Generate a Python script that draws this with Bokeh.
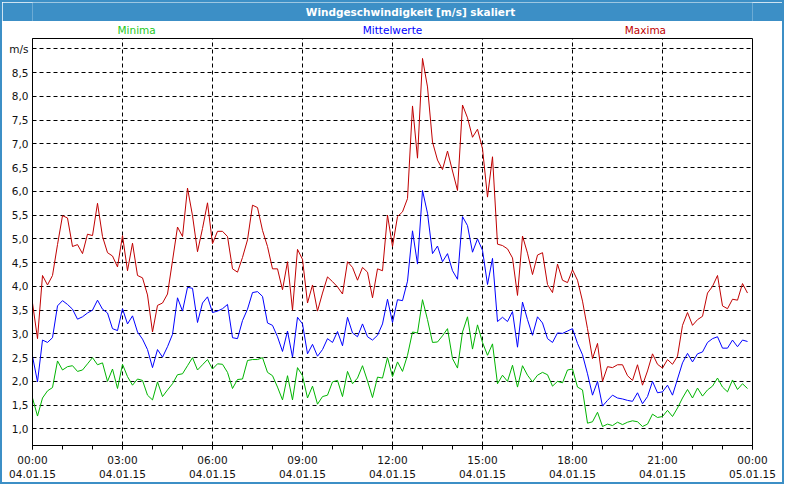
from bokeh.plotting import figure
from bokeh.models import Range1d, FixedTicker, Label, ColumnDataSource
from bokeh.layouts import column
from bokeh.embed import file_html
from bokeh.resources import INLINE

# ---- data (10-minute samples, 04.01.15 00:00 .. 23:50) ----
minutes = [k * 10 for k in range(144)]

maxima = [
    3.65, 2.9, 4.23, 4.03, 4.23, 4.88, 5.49, 5.44, 4.84, 4.88, 4.69, 5.1,
    5.07, 5.75, 5.05, 4.71, 4.64, 4.41, 5.07, 4.33, 4.91, 4.23, 4.18, 3.82,
    3.04, 3.6, 3.65, 3.84, 4.54, 5.25, 5.05, 6.07, 5.49, 4.73, 5.22, 5.76,
    4.9, 5.16, 5.16, 5.05, 4.37, 4.3, 4.61, 4.98, 5.71, 5.66, 5.18, 4.84,
    4.37, 4.37, 3.93, 4.52, 3.5, 4.78, 4.57, 3.65, 4.03, 3.48, 3.86, 4.2,
    4.1, 3.99, 3.84, 4.52, 4.4, 4.13, 4.4, 4.3, 3.76, 4.37, 4.33, 5.5,
    4.84, 5.47, 5.57, 5.85, 7.8, 6.7, 8.8, 8.2, 7.04, 6.66, 6.46, 6.85,
    6.43, 6.02, 7.82, 7.55, 7.14, 7.31, 6.9, 5.88, 6.73, 4.89, 4.86, 4.79,
    4.6, 3.81, 5.06, 4.7, 4.25, 4.66, 4.71, 4.04, 3.87, 4.47, 4.13, 4.08,
    4.35, 4.13, 3.69, 3.11, 2.48, 2.8, 2.0, 2.31, 2.29, 2.35, 2.35, 2.12,
    2.02, 2.35, 1.92, 2.22, 2.58, 2.36, 2.28, 2.46, 2.36, 2.53, 3.18, 3.45,
    3.18, 3.3, 3.37, 3.86, 4.0, 4.23, 3.59, 3.53, 3.73, 3.71, 4.06, 3.86,
]

mittelwerte = [
    2.53, 1.99, 2.87, 2.82, 2.92, 3.59, 3.7, 3.62, 3.52, 3.31, 3.36, 3.44,
    3.5, 3.71, 3.52, 3.44, 3.11, 3.07, 3.53, 3.21, 3.38, 3.04, 2.89, 2.67,
    2.29, 2.67, 2.51, 2.73, 2.99, 3.76, 3.48, 3.98, 3.96, 3.24, 3.65, 3.78,
    3.45, 3.48, 3.53, 3.62, 2.92, 2.9, 3.28, 3.52, 3.87, 3.89, 3.79, 3.23,
    3.18, 2.94, 2.63, 3.06, 2.51, 3.35, 3.21, 2.58, 2.78, 2.53, 2.67, 2.9,
    2.82, 3.05, 2.75, 3.35, 3.02, 2.94, 3.21, 2.94, 2.87, 2.97, 3.21, 3.73,
    3.24, 3.72, 3.7, 4.11, 5.17, 4.47, 6.02, 5.54, 4.69, 4.85, 4.52, 4.69,
    4.33, 4.15, 5.47, 5.28, 4.72, 5.0, 4.76, 4.04, 4.59, 3.26, 3.35, 3.26,
    3.47, 2.72, 3.67, 3.3, 2.97, 3.36, 3.23, 2.9, 2.82, 3.02, 3.01, 3.06,
    3.11, 2.8, 2.56, 2.16, 1.71, 2.0, 1.48, 1.6, 1.71, 1.65, 1.63, 1.6,
    1.58, 1.76, 1.53, 1.68, 2.0, 1.76, 1.78, 1.92, 1.71, 2.05, 2.39, 2.59,
    2.41, 2.58, 2.62, 2.82, 2.9, 2.94, 2.7, 2.7, 2.87, 2.73, 2.87, 2.84,
]

minima = [
    1.65, 1.27, 1.65, 1.8, 1.87, 2.43, 2.24, 2.31, 2.33, 2.21, 2.24, 2.37,
    2.5, 2.35, 2.39, 2.0, 2.26, 1.85, 2.36, 2.1, 1.92, 2.05, 2.02, 1.71,
    1.61, 1.99, 1.68, 1.82, 1.95, 2.14, 2.16, 2.33, 2.5, 2.24, 2.35, 2.46,
    2.26, 2.37, 2.36, 2.19, 1.85, 2.04, 2.05, 2.44, 2.46, 2.46, 2.5, 2.19,
    2.12, 1.88, 1.61, 2.12, 1.61, 2.29, 2.12, 1.65, 1.9, 1.52, 1.68, 1.71,
    1.99, 2.02, 1.68, 2.21, 1.95, 2.07, 2.33, 2.01, 1.66, 2.09, 2.07, 2.5,
    2.1, 2.41, 2.21, 2.55, 3.04, 3.02, 3.72, 3.3, 2.82, 2.83, 2.96, 3.11,
    2.48, 2.28, 3.04, 3.36, 2.68, 3.19, 2.82, 2.55, 2.79, 1.95, 2.13, 2.0,
    2.34, 1.88, 2.33, 2.13, 1.99, 2.13, 2.19, 2.14, 1.9, 2.0, 1.97, 2.24,
    2.26, 1.88, 1.82, 1.12, 1.15, 1.35, 1.05, 1.1, 1.07, 1.14, 1.09, 1.14,
    1.17, 1.15, 1.05, 1.1, 1.31, 1.24, 1.26, 1.39, 1.26, 1.44, 1.65, 1.83,
    1.65, 1.86, 1.69, 1.82, 1.9, 2.07, 1.88, 1.78, 2.03, 1.83, 1.95, 1.85,
]

x_ticks = [0, 3, 6, 9, 12, 15, 18, 21, 24]
x_tick_labels = ["00:00\n04.01.15", "03:00\n04.01.15", "06:00\n04.01.15",
                 "09:00\n04.01.15", "12:00\n04.01.15", "15:00\n04.01.15",
                 "18:00\n04.01.15", "21:00\n04.01.15", "00:00\n05.01.15"]
x_minor = list(range(0, 25))
y_ticks = [1.0, 1.5, 2.0, 2.5, 3.0, 3.5, 4.0, 4.5, 5.0, 5.5, 6.0, 6.5, 7.0,
           7.5, 8.0, 8.5, 9.0]
y_tick_labels = ["1,0", "1,5", "2,0", "2,5", "3,0", "3,5", "4,0", "4,5", "5,0",
                 "5,5", "6,0", "6,5", "7,0", "7,5", "8,0", "8,5", "m/s"]

TITLE = "Windgeschwindigkeit [m/s] skaliert"
series_names = ["Minima", "Mittelwerte", "Maxima"]
series_colors = ["#00b400", "#0000ff", "#c00000"]
label_colors = ["#1ec81e", "#0000ff", "#c00000"]

FONT = "DejaVu Sans"
BAR = "#3c8fc6"
W = 780
BAR_H = 19
LEG_H = 15
LEFT, RIGHT = 30, 30
label_hours = [3.47, 12.0, 20.43]
title_hour = 12.6

hours = [m / 60 for m in minutes]
src = ColumnDataSource(dict(h=hours, mn=minima, mw=mittelwerte, mx=maxima))

# ---- title bar ----
bar = figure(width=W, height=BAR_H, output_backend="svg", toolbar_location=None,
             x_range=Range1d(0, 24), y_range=Range1d(0, 1),
             min_border_left=LEFT, min_border_right=RIGHT,
             min_border_top=0, min_border_bottom=0,
             background_fill_color=BAR, border_fill_color=BAR,
             outline_line_color=None)
bar.axis.visible = False
bar.grid.visible = False
bar.add_layout(Label(x=title_hour, y=0.5, text=TITLE, text_color="white",
                     text_font=FONT, text_font_size="10.5px",
                     text_font_style="bold", text_align="center",
                     text_baseline="middle"))

# ---- series names row ----
leg = figure(width=W, height=LEG_H, output_backend="svg", toolbar_location=None,
             x_range=Range1d(0, 24), y_range=Range1d(0, 1),
             min_border_left=LEFT, min_border_right=RIGHT,
             min_border_top=0, min_border_bottom=0,
             background_fill_color="white", border_fill_color="white",
             outline_line_color=None)
leg.axis.visible = False
leg.grid.visible = False
for name, col, hx in zip(series_names, label_colors, label_hours):
    leg.add_layout(Label(x=hx, y=0.45, text=name, text_color=col,
                         text_font=FONT, text_font_size="10.5px",
                         text_align="center", text_baseline="middle"))

# ---- main chart ----
Y0, Y1 = 0.65, 9.22
p = figure(width=W, height=480 - BAR_H - LEG_H, output_backend="svg",
           toolbar_location=None,
           x_range=Range1d(0, 24), y_range=Range1d(Y0, Y1),
           min_border_left=LEFT, min_border_right=RIGHT, min_border_top=2,
           min_border_bottom=32, background_fill_color="white",
           border_fill_color="white", outline_line_color="black",
           outline_line_width=1)

p.line("h", "mx", source=src, line_color=series_colors[2], line_width=1)
p.line("h", "mw", source=src, line_color=series_colors[1], line_width=1)
p.line("h", "mn", source=src, line_color=series_colors[0], line_width=1)

xa = p.xaxis[0]
xa.ticker = FixedTicker(ticks=x_ticks, minor_ticks=x_minor)
xa.major_label_overrides = dict(zip(x_ticks, x_tick_labels))
xa.major_tick_in = 0
xa.major_tick_out = 4
xa.minor_tick_in = 0
xa.minor_tick_out = 4
xa.axis_line_color = "black"
xa.major_tick_line_color = "black"
xa.minor_tick_line_color = "black"
xa.major_label_text_font = FONT
xa.major_label_text_font_size = "10.5px"
xa.major_label_text_color = "#111111"
xa.major_label_standoff = 4

ya = p.yaxis[0]
ya.ticker = FixedTicker(ticks=y_ticks)
ya.major_label_overrides = dict(zip(y_ticks, y_tick_labels))
ya.major_tick_in = 0
ya.major_tick_out = 0
ya.minor_tick_line_color = None
ya.axis_line_color = "black"
ya.major_label_text_font = FONT
ya.major_label_text_font_size = "10.5px"
ya.major_label_text_color = "#111111"
ya.major_label_standoff = 4

p.xgrid.ticker = FixedTicker(ticks=x_ticks)
p.ygrid.ticker = FixedTicker(ticks=y_ticks)
for g in (p.xgrid[0], p.ygrid[0]):
    g.grid_line_color = "black"
    g.grid_line_dash = "4 3"
    g.grid_line_width = 1

layout = column(bar, leg, p, spacing=0, styles={"border": "2px solid " + BAR})

open("out.html", "w").write(file_html(layout, INLINE))
